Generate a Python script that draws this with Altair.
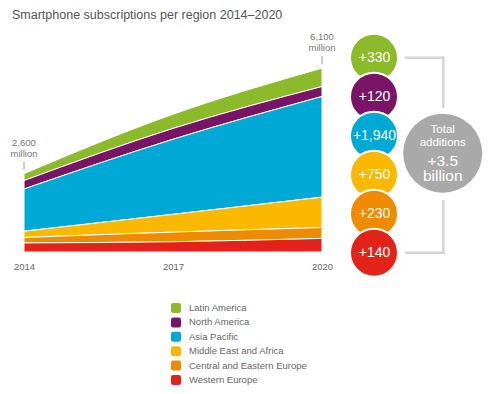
import altair as alt
import pandas as pd

FONT = "Liberation Sans"

years = [2014, 2017, 2020]
regions = ["Latin America", "North America", "Asia Pacific",
           "Middle East and Africa", "Central and Eastern Europe", "Western Europe"]
colors = ["#8bbb2a", "#7a1466", "#00a8d6", "#fbb800", "#ef8b00", "#e2231a"]

latin_america = [230, 470, 610]
north_america = [280, 360, 330]
asia_pacific = [1400, 2490, 3340]
middle_east_africa = [210, 590, 1010]
central_eastern_europe = [180, 320, 360]
western_europe = [300, 340, 450]

additions = ["+330", "+120", "+1,940", "+750", "+230", "+140"]
total_years = [2014, 2020]
totals = [2600, 6100]
total_labels = ["2,600\nmillion", "6,100\nmillion"]
title_text = "Smartphone subscriptions per region 2014\u20132020"

series = [latin_america, north_america, asia_pacific, middle_east_africa,
          central_eastern_europe, western_europe]
rows = []
for i, (r, s) in enumerate(zip(regions, series)):
    for y, v in zip(years, s):
        rows.append({"region": r, "year": y, "value": v, "stack": len(regions) - i})
df = pd.DataFrame(rows)

ROUNDED = ("M-0.55,-1 L0.55,-1 Q1,-1 1,-0.55 L1,0.55 Q1,1 0.55,1 L-0.55,1 "
           "Q-1,1 -1,0.55 L-1,-0.55 Q-1,-1 -0.55,-1 Z")

yq = alt.Scale(domain=[0, 7000], nice=False, zero=True)

area = alt.Chart(df).mark_area(interpolate="monotone", stroke="white", strokeWidth=1).encode(
    x=alt.X("year:Q", scale=alt.Scale(domain=[2014, 2020], nice=False, zero=False),
            axis=alt.Axis(values=years, format="d", title=None, grid=False, domain=False,
                          ticks=False, labelFlush=False, labelPadding=9, labelFontSize=9.5,
                          labelColor="#666", labelFont=FONT)),
    y=alt.Y("value:Q", stack="zero", scale=yq, axis=None),
    color=alt.Color("region:N", scale=alt.Scale(domain=regions, range=colors),
                    legend=alt.Legend(title=None, orient="none", legendX=147, legendY=262,
                                      symbolType=ROUNDED, symbolSize=100, symbolStrokeWidth=0,
                                      symbolOpacity=1, labelFont=FONT, labelFontSize=9.5,
                                      labelColor="#666", labelOffset=8, rowPadding=4.4)),
    order=alt.Order("stack:Q"),
)

ann_df = pd.DataFrame({"year": total_years, "total": totals, "label": total_labels})
ann_text = alt.Chart(ann_df).mark_text(
    baseline="bottom", align="center", dy=-26, fontSize=9.5, color="#777", font=FONT,
    lineHeight=11, lineBreak="\n"
).encode(x="year:Q", y=alt.Y("total:Q", scale=yq, axis=None), text="label:N")
ann_tick = alt.Chart(ann_df).mark_rule(yOffset=-4, y2Offset=-12, color="#cccccc", strokeWidth=2).encode(
    x="year:Q", y=alt.Y("total:Q", scale=yq, axis=None), y2=alt.Y2("total:Q"))

bub_df = pd.DataFrame({"region": regions, "add": additions})
ybub = alt.Y("region:N", scale=alt.Scale(domain=regions, range=[16.7, 211.7], padding=0), axis=None)

bubbles = alt.Chart(bub_df).mark_circle(size=2304, stroke="white", strokeWidth=2, opacity=1).encode(
    x=alt.value(350), y=ybub,
    fill=alt.Fill("region:N", scale=alt.Scale(domain=regions, range=colors), legend=None))
bub_text = alt.Chart(bub_df).mark_text(color="white", fontSize=14, font=FONT, baseline="middle").encode(
    x=alt.value(350.5), y=ybub, text="add:N")

one = pd.DataFrame({"k": [0]})
LINE = "#d6d6d6"
rules = [
    alt.Chart(one).mark_rule(color=LINE, strokeWidth=2.5).encode(
        x=alt.value(381), x2=alt.value(420.5), y=alt.value(16.7)),
    alt.Chart(one).mark_rule(color=LINE, strokeWidth=2.5).encode(
        x=alt.value(419.3), y=alt.value(15.5), y2=alt.value(67)),
    alt.Chart(one).mark_rule(color=LINE, strokeWidth=2.5).encode(
        x=alt.value(419.3), y=alt.value(159), y2=alt.value(212.9)),
    alt.Chart(one).mark_rule(color=LINE, strokeWidth=2.5).encode(
        x=alt.value(381), x2=alt.value(420.5), y=alt.value(211.7)),
]

gray = alt.Chart(one).mark_circle(size=6241, color="#a9a9a9", opacity=1).encode(
    x=alt.value(418.7), y=alt.value(112.3))

def txt(t, y, size):
    return alt.Chart(one).mark_text(text=t, color="white", fontSize=size, font=FONT,
                                    baseline="middle", align="center").encode(
        x=alt.value(418.7), y=alt.value(y))

gray_texts = [txt("Total", 89, 11.5), txt("additions", 102, 11.5),
              txt("+3.5", 119.5, 15.5), txt("billion", 135, 15.5)]

title = alt.Chart(one).mark_text(text=title_text, align="left", baseline="middle", fontSize=12.5,
                                 color="#555", font=FONT).encode(
    x=alt.value(-12), y=alt.value(-26))

chart = alt.layer(
    area, ann_tick, ann_text, *rules, bubbles, bub_text, gray, *gray_texts, title
).resolve_scale(y="independent").properties(
    width=298, height=211,
    padding={"left": 16, "top": 33, "right": 161, "bottom": 134},
    autosize=alt.AutoSizeParams(type="none"),
    background="white",
).configure_view(stroke=None)

chart.save("out.html", embed_options={"renderer": "svg", "actions": False})
